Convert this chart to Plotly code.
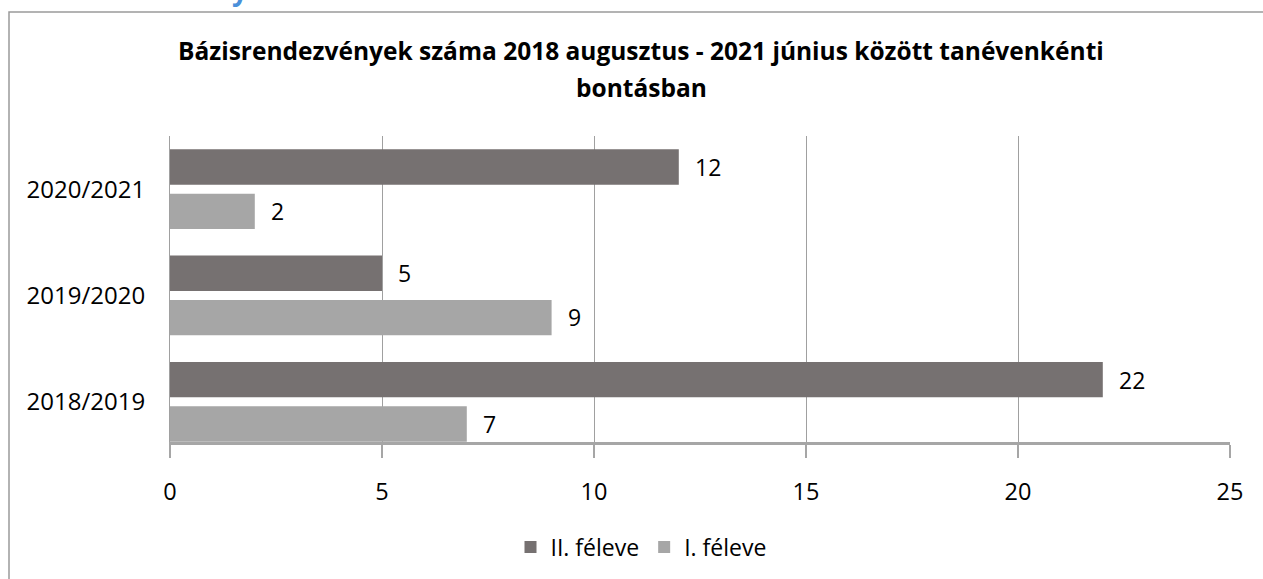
import plotly.graph_objects as go

categories = ["2018/2019", "2019/2020", "2020/2021"]
first_half = [7, 9, 2]      # I. féleve
second_half = [22, 5, 12]   # II. féleve
x_ticks = [0, 5, 10, 15, 20, 25]

title_line1 = "Bázisrendezvények száma 2018 augusztus - 2021 június között tanévenkénti"
title_line2 = "bontásban"

FONT = "Open Sans"
DARK = "#767171"
LIGHT = "#a6a6a6"

W, H = 1263, 579
L, R, T, B = 170, 33, 136, 136
plot_h = H - T - B

def py(pix):
    return (H - B - pix) / plot_h

def px(pix):
    return (pix - L) / (W - L - R)

fig = go.Figure()
fig.add_trace(go.Bar(
    y=categories, x=first_half, orientation="h", name="I. féleve",
    marker=dict(color=LIGHT, line=dict(width=0)),
    offset=-0.375, width=0.333, hoverinfo="skip",
))
fig.add_trace(go.Bar(
    y=categories, x=second_half, orientation="h", name="II. féleve",
    marker=dict(color=DARK, line=dict(width=0)),
    offset=0.042, width=0.333, hoverinfo="skip",
))

annotations = []
for cat, v in zip(categories, second_half):
    annotations.append(dict(x=v, y=cat, xref="x", yref="y", text=str(v), showarrow=False,
                            xanchor="left", yanchor="middle", xshift=14, yshift=22,
                            font=dict(family=FONT, size=23, color="#000")))
for cat, v in zip(categories, first_half):
    annotations.append(dict(x=v, y=cat, xref="x", yref="y", text=str(v), showarrow=False,
                            xanchor="left", yanchor="middle", xshift=14, yshift=-22,
                            font=dict(family=FONT, size=23, color="#000")))

annotations.append(dict(x=px(641), y=py(50), xref="paper", yref="paper", text="<b>" + title_line1 + "</b>",
                        showarrow=False, xanchor="center", yanchor="middle",
                        font=dict(family=FONT, size=24.5, color="#000")))
annotations.append(dict(x=px(641), y=py(87), xref="paper", yref="paper", text="<b>" + title_line2 + "</b>",
                        showarrow=False, xanchor="center", yanchor="middle",
                        font=dict(family=FONT, size=24.5, color="#000")))
annotations.append(dict(x=px(240), y=py(-11), xref="paper", yref="paper", text="<b>y</b>",
                        showarrow=False, xanchor="center", yanchor="middle",
                        font=dict(family=FONT, size=28, color="#4a90d9")))

fig.update_layout(
    width=W, height=H,
    margin=dict(l=L, r=R, t=T, b=B, pad=0),
    paper_bgcolor="white", plot_bgcolor="white",
    barmode="overlay",
    showlegend=True,
    legend=dict(orientation="h", traceorder="reversed", x=px(641), xanchor="center",
                y=py(547), yanchor="middle", font=dict(family=FONT, size=23, color="#000"),
                itemwidth=30, bgcolor="rgba(0,0,0,0)"),
    annotations=annotations,
    font=dict(family=FONT, size=23, color="#000"),
    shapes=[dict(type="rect", xref="paper", yref="paper",
                 x0=px(9), x1=px(1400), y0=py(700), y1=py(11.5),
                 line=dict(color="#9a9a9a", width=1.5), fillcolor="rgba(0,0,0,0)", layer="below")],
)
fig.update_xaxes(
    range=[0, 25], tickvals=x_ticks, ticktext=[str(t) for t in x_ticks],
    showgrid=True, gridcolor="#a0a0a0", gridwidth=1,
    zeroline=False,
    showline=True, linecolor="#a6a6a6", linewidth=2.5,
    ticks="outside", ticklen=13, tickwidth=1.5, tickcolor="#a6a6a6",
    ticklabelstandoff=14,
    tickfont=dict(family=FONT, size=23.5, color="#000"),
)
fig.update_yaxes(
    type="category", categoryorder="array", categoryarray=categories,
    range=[-0.378, 2.5],
    showgrid=False, zeroline=False, showline=True, linecolor="#a0a0a0", linewidth=1,
    ticks="", ticklabelstandoff=19,
    tickfont=dict(family=FONT, size=24, color="#000"),
)
fig.write_html("out.html", config={"displayModeBar": False, "staticPlot": True},
               post_script="document.body.style.margin='0';document.body.style.overflow='hidden';")
